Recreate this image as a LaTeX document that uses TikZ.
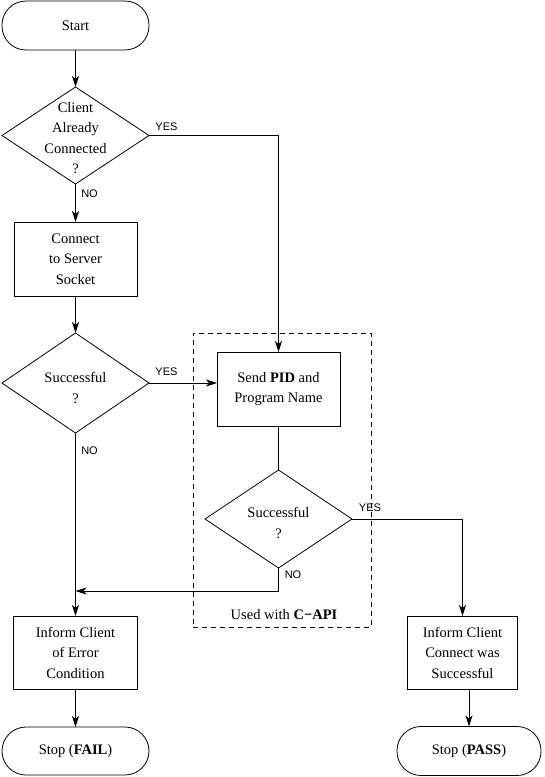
\documentclass[tikz,border=0pt]{standalone}
\usepackage{fontspec}
\setmainfont{Liberation Serif}
\newfontfamily\lblfont{Liberation Sans}
\usetikzlibrary{shapes.geometric,arrows.meta}
\tikzset{
  txt/.style={font=\fontsize{14.5}{20.5}\selectfont, align=center, inner sep=0pt},
  lab/.style={font=\lblfont\fontsize{11}{13}\selectfont, inner sep=0pt},
  term/.style={draw, rectangle, rounded corners=24pt, inner sep=0pt, outer sep=0pt, font=\fontsize{14.5}{20.5}\selectfont},
  procbox/.style={draw, rectangle, inner sep=0pt, outer sep=0pt, align=center, font=\fontsize{14.5}{20.5}\selectfont},
  decide/.style={draw, diamond, inner sep=0pt, outer sep=0pt},
  arr/.style={-{Stealth[length=11pt,width=7pt,inset=3pt]}},
}
\begin{document}
\begin{tikzpicture}[x=1pt,y=-1pt, line width=0.8pt]
\useasboundingbox (0,0) rectangle (544,777);
% terminals
\node[term, minimum width=147pt, minimum height=49pt] (start) at (75.5,25.5) {Start};
\node[term, minimum width=147pt, minimum height=48pt] (stopfail) at (75.5,751) {Stop (\textbf{FAIL})};
\node[term, minimum width=144pt, minimum height=49pt] (stoppass) at (469,751) {Stop (\textbf{PASS})};
% decisions
\node[decide, minimum width=147pt, minimum height=97pt] (d1) at (75.5,135.5) {};
\node[txt] (d1t) at (75.5,138) {Client\\Already\\Connected\\?};
\node[decide, minimum width=147pt, minimum height=100pt] (d2) at (75.5,383) {};
\node[txt] (d2t) at (75.5,388) {Successful\\?};
\node[decide, minimum width=147pt, minimum height=98pt] (d3) at (278.5,519) {};
\node[txt] (d3t) at (278.5,523) {Successful\\?};
% process boxes
\node[procbox, minimum width=123pt, minimum height=74pt] (connect) at (75.5,259) {Connect\\to Server\\Socket};
\node[procbox, minimum width=123pt, minimum height=74pt] (send) at (278.5,389) {Send \textbf{PID} and\\Program Name};
\node[procbox, minimum width=124pt, minimum height=73pt] (ferr) at (75.5,652.5) {Inform Client\\of Error\\Condition};
\node[procbox, minimum width=110pt, minimum height=73pt] (pass) at (462.5,652.5) {Inform Client\\Connect was\\Successful};
% dashed group
\node[draw, dash pattern=on 5pt off 4pt, line width=0.7pt, rectangle, inner sep=0pt, minimum width=178pt, minimum height=294pt] (grp) at (282,480) {};
\node[txt] (grpt) at (284,615) {Used with \textbf{C−API}};
% connectors
\draw[arr] (start.south) -- (d1.north);
\draw[arr] (d1.east) -| (send.north);
\node[lab] (y1) at (166.5,127) {YES};
\draw[arr] (d1.south) -- (connect.north);
\node[lab] (n1) at (89.5,194) {NO};
\draw[arr] (connect.south) -- (d2.north);
\draw[arr] (d2.east) -- (d2.east -| send.west);
\node[lab] (y2) at (166.5,372) {YES};
\draw[arr] (d2.south) -- (ferr.north);
\node[lab] (n2) at (89.5,451) {NO};
\draw (send.south) -- (d3.north);
\draw[arr] (d3.east) -| (pass.north);
\node[lab] (y3) at (370,508) {YES};
\coordinate (join) at (75.5,591);
\draw[arr] (d3.south) |- (join);
\node[lab] (n3) at (293,575) {NO};
\draw[arr] (ferr.south) -- (stopfail.north);
\draw[arr] (stoppass.north |- pass.south) -- (stoppass.north);
\end{tikzpicture}
\end{document}
